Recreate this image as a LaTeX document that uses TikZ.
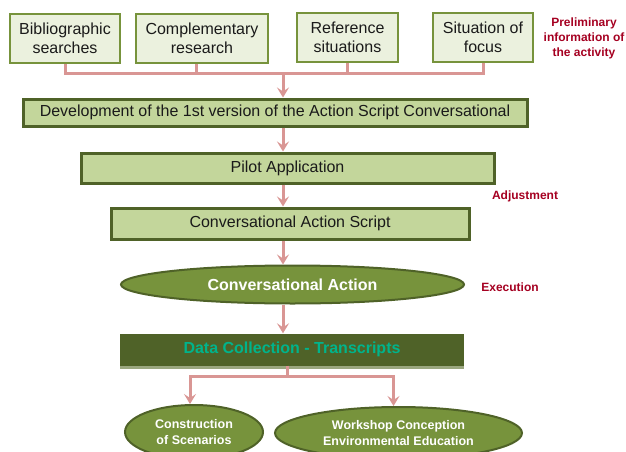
\documentclass[tikz,border=0pt]{standalone}
\usepackage{fontspec}
\setmainfont{Liberation Sans}
\usetikzlibrary{arrows.meta,shapes.geometric,calc}

\definecolor{srcedge}{HTML}{77933C}
\definecolor{srcfill}{HTML}{EBF1DE}
\definecolor{olivedark}{HTML}{4F6228}
\definecolor{stagefill}{HTML}{C3D69B}
\definecolor{ellfill}{HTML}{77933C}
\definecolor{flowpink}{HTML}{D99694}
\definecolor{notered}{HTML}{A50021}
\definecolor{tealtext}{RGB}{0,180,140}
\definecolor{dcshadow}{HTML}{9AA77F}
\definecolor{bodytext}{HTML}{1A1A1A}

\tikzset{
  srcbox/.style={draw=srcedge, fill=srcfill, line width=2pt, inner sep=0pt,
    align=center, text=bodytext, font=\fontsize{16}{18.5}\selectfont},
  stagebox/.style={draw=olivedark, fill=stagefill, line width=3pt, inner sep=0pt,
    text=bodytext, font=\fontsize{16}{18.5}\selectfont},
  stageoval/.style={ellipse, draw=olivedark, fill=ellfill, line width=2pt, inner sep=0pt,
    align=center, text=white},
  flow/.style={draw=flowpink, line width=3pt},
  flowarrow/.style={flow, -{Stealth[length=10pt,width=12pt,inset=4pt]}},
  note/.style={text=notered, align=center, font=\bfseries\fontsize{12}{15}\selectfont}
}

\begin{document}
\begin{tikzpicture}[x=1pt,y=-1pt]
\useasboundingbox (0,0) rectangle (626,452);
\clip (0,0) rectangle (626,452);

% sources of preliminary information
\node[srcbox, minimum width=110pt, minimum height=49pt] (bib)   at (65,38.5)  {Bibliographic\\searches};
\node[srcbox, minimum width=132pt, minimum height=49pt] (comp)  at (202,38.5) {Complementary\\research};
\node[srcbox, minimum width=101pt, minimum height=49pt] (ref)   at (347.5,37.5) {Reference\\situations};
\node[srcbox, minimum width=100pt, minimum height=49pt] (focus) at (483,37.5) {Situation of\\focus};
\node[note] (prelim) at (584,38) {Preliminary\\information of\\the activity};

% collecting bus
\coordinate (bus) at (283,73);
\draw[flow] (bib.south) -- (bib.south |- bus);
\draw[flow] ([xshift=-6pt]comp.south) -- ([xshift=-6pt]comp.south |- bus);
\draw[flow] (ref.south) -- (ref.south |- bus);
\draw[flow] (focus.south) -- (focus.south |- bus);
\draw[flow, line cap=rect] (bib.south |- bus) -- (focus.south |- bus);

% main stages
\node[stagebox, minimum width=504pt, minimum height=27pt] (dev) at (275,112.5)
  {Development of the 1st version of the Action Script Conversational};
\node[stagebox, minimum width=413pt, minimum height=30pt] (pilot) at (287.5,168) {Pilot Application};
\node[stagebox, minimum width=358pt, minimum height=31pt] (cas) at (290,223.5) {Conversational Action Script};
\node[stageoval, minimum width=343pt, minimum height=38pt,
      font=\bfseries\fontsize{16}{18.5}\selectfont] (ca) at (292.5,284.5) {Conversational Action};
\fill[dcshadow] (120,364) rectangle (464,368.5);
\node[fill=olivedark, minimum width=344pt, minimum height=32pt, inner sep=0pt,
      text=tealtext, font=\bfseries\fontsize{16}{18.5}\selectfont] (dc) at (292,349.5)
  {Data Collection - Transcripts};

\node[note] (adj)  at (525,196) {Adjustment};
\node[note] (exec) at (510,287) {Execution};

% outcomes
\node[stageoval, minimum width=138pt, minimum height=54pt,
      font=\bfseries\fontsize{12.5}{16}\selectfont] (scen) at (194,432) {Construction\\of Scenarios};
\node[stageoval, minimum width=247pt, minimum height=52pt,
      font=\bfseries\fontsize{12.5}{16}\selectfont] (work) at (398.5,433) {Workshop Conception\\Environmental Education};

% flow between stages
\draw[flowarrow] (bus) -- (bus |- dev.north);
\draw[flowarrow] (dev.south -| bus) -- (pilot.north -| bus);
\draw[flowarrow] (pilot.south -| bus) -- (cas.north -| bus);
\draw[flowarrow] (cas.south -| bus) -- (ca.north -| bus);
\draw[flowarrow] (ca.south -| bus) -- (dc.north -| bus);

% split toward the outcomes
\coordinate (split) at (287,376);
\draw[flow] (dc.south -| split) -- (split);
\draw[flowarrow] (split) -| ([xshift=-4pt]scen.north);
\draw[flowarrow] (split) -| ([xshift=-5pt]work.north);
\end{tikzpicture}
\end{document}
